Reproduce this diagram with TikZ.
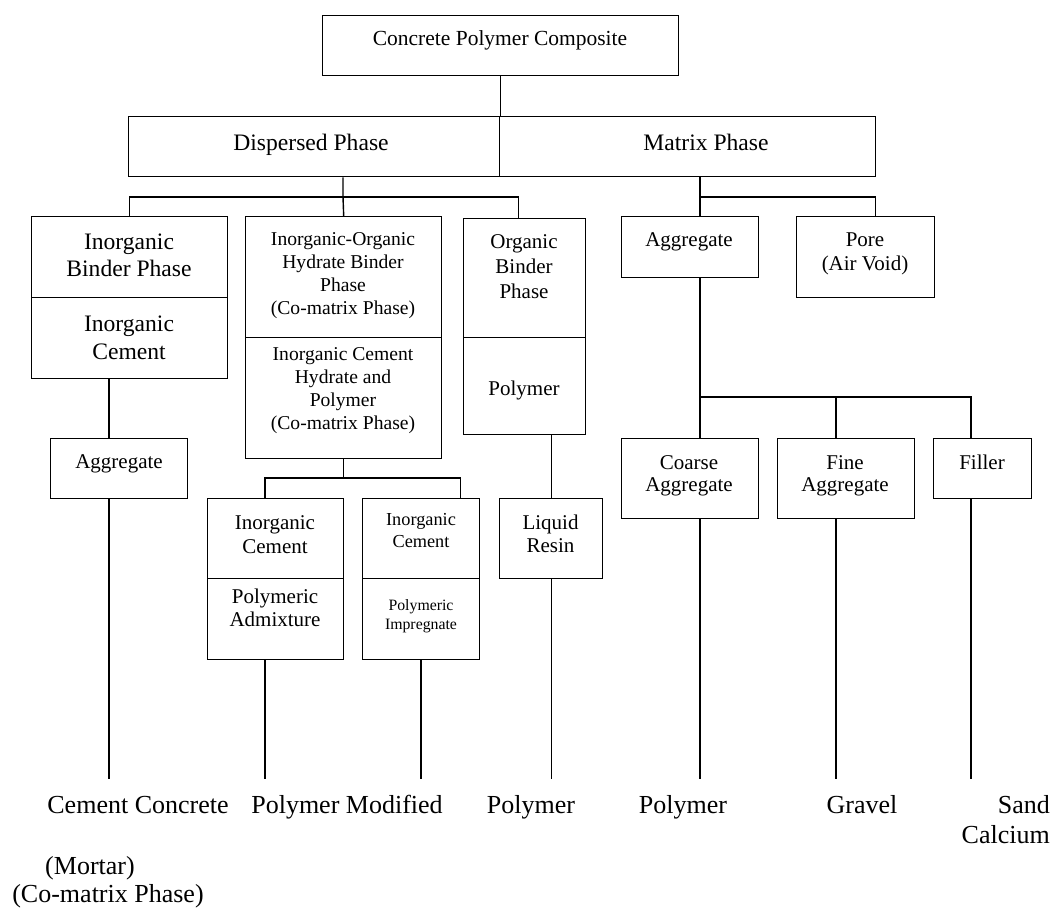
\documentclass[tikz,border=0pt]{standalone}
\usepackage{fontspec}
\setmainfont{Liberation Serif}
\usetikzlibrary{positioning}

\tikzset{
  box/.style={draw, line width=1.4pt, inner sep=0pt, anchor=north west},
  conn/.style={line width=1.4pt},
  txt/.style={align=center, inner sep=0pt, font=\fontsize{21}{23.5}\selectfont},
  oneline/.style={anchor=base},
  txtsm/.style={txt, font=\fontsize{19.6}{23}\selectfont},
  txtbig/.style={txt, font=\fontsize{23.6}{27}\selectfont},
  leaf/.style={inner sep=0pt, anchor=base, font=\fontsize{26}{31}\selectfont},
}

\begin{document}
\begin{tikzpicture}[x=1pt,y=-1pt]
\useasboundingbox (0,0) rectangle (1056,908);

% boxes
\node[box, minimum width=356pt, minimum height=60pt] (cpc) at (322,15) {};
\node[box, minimum width=371pt, minimum height=60pt] (disp) at (128,116) {};
\node[box, minimum width=376pt, minimum height=60pt] (mat) at (499,116) {};
\node[box, minimum width=196pt, minimum height=81pt] (ibin) at (31,216) {};
\node[box, minimum width=196pt, minimum height=81pt] (ic) at (31,297) {};
\node[box, minimum width=196pt, minimum height=121pt] (iohb) at (245,216) {};
\node[box, minimum width=196pt, minimum height=121pt] (iohb2) at (245,337) {};
\node[box, minimum width=122pt, minimum height=119pt] (orgb) at (463,218) {};
\node[box, minimum width=122pt, minimum height=97pt] (pol) at (463,337) {};
\node[box, minimum width=137pt, minimum height=60pt] (lagg) at (50,438) {};
\node[box, minimum width=136pt, minimum height=80pt] (icpa) at (207,498) {};
\node[box, minimum width=136pt, minimum height=81pt] (padm) at (207,578) {};
\node[box, minimum width=117pt, minimum height=80pt] (icpi) at (362,498) {};
\node[box, minimum width=117pt, minimum height=81pt] (pimp) at (362,578) {};
\node[box, minimum width=103pt, minimum height=80pt] (lr) at (499,498) {};
\node[box, minimum width=137pt, minimum height=61pt] (magg) at (621,216) {};
\node[box, minimum width=138pt, minimum height=81pt] (pore) at (796,216) {};
\node[box, minimum width=137pt, minimum height=80pt] (coarse) at (621,438) {};
\node[box, minimum width=137pt, minimum height=80pt] (fine) at (777,438) {};
\node[box, minimum width=98pt, minimum height=60pt] (filler) at (933,438) {};

% box texts
\node[txt, oneline, font=\fontsize{21.5}{25}\selectfont] (cpct) at (500,45.5) {Concrete Polymer Composite};
\node[txtbig, oneline] (dispt) at (311,150.5) {Dispersed Phase};
\node[txtbig, oneline] (matt) at (706,150.5) {Matrix Phase};
\node[txtbig] (ibint) at (129,255.5) {Inorganic\\Binder Phase};
\node[txtbig, font=\fontsize{23.6}{28}\selectfont] (ict) at (129,338) {Inorganic\\Cement};
\node[txtsm] (iohbt) at (343,275.5) {Inorganic-Organic\\Hydrate Binder\\Phase\\(Co-matrix Phase)};
\node[txtsm] (iohb2t) at (343,390.5) {Inorganic Cement\\Hydrate and\\Polymer\\(Co-matrix Phase)};
\node[txt, font=\fontsize{21}{25}\selectfont] (orgbt) at (524,267) {Organic\\Binder\\Phase};
\node[txt, oneline] (polt) at (524,395.5) {Polymer};
\node[txt, oneline] (laggt) at (119,468.5) {Aggregate};
\node[txt] (icpat) at (275,534.5) {Inorganic\\Cement};
\node[txt, font=\fontsize{21}{22.5}\selectfont] (padmt) at (275,608) {Polymeric\\Admixture};
\node[txt, font=\fontsize{18.3}{22}\selectfont] (icpit) at (421,531) {Inorganic\\Cement};
\node[txt, font=\fontsize{15.8}{19}\selectfont] (pimpt) at (421,616.5) {Polymeric\\Impregnate};
\node[txt] (lrt) at (550.5,534) {Liquid\\Resin};
\node[txt, oneline] (maggt) at (689,246.5) {Aggregate};
\node[txt, font=\fontsize{21}{24}\selectfont] (poret) at (865,254) {Pore\\(Air Void)};
\node[txt, font=\fontsize{21}{22.5}\selectfont] (coarset) at (689,476) {Coarse\\Aggregate};
\node[txt, font=\fontsize{21}{22.5}\selectfont] (finet) at (845,476) {Fine\\Aggregate};
\node[txt, oneline] (fillert) at (982,469.5) {Filler};

% junctions and line ends
\coordinate (dj) at (343,197);
\coordinate (mj) at (700,197);
\coordinate (pj) at (343,478);
\coordinate (aj) at (700,397);
\coordinate (ecc) at (109,779);
\coordinate (epm) at (265,779);
\coordinate (epi) at (421,779);
\coordinate (epol2) at (700,779);
\coordinate (egrv) at (836,779);
\coordinate (esand) at (971,779);

% connectors
\draw[conn] (cpc.south) -- (cpc.south |- disp.north);
\draw[conn] (disp.south -| dj) -- (dj) -- (iohb.north);
\draw[conn] (ibin.north) |- (dj) -| ([xshift=-6pt]orgb.north);
\draw[conn] (mat.south -| mj) -- (mj) -- (magg.north -| mj);
\draw[conn] (mj) -| ([xshift=10pt]pore.north);
% dispersed side
\draw[conn] (ic.south -| ecc) -- (lagg.north -| ecc);
\draw[conn] (lagg.south -| ecc) -- (ecc);
\draw[conn] (iohb2.south) -- (iohb2.south |- pj);
\draw[conn] (icpa.north -| epm) |- (pj) -| ([xshift=39.5pt]icpi.north);
\draw[conn] (padm.south -| epm) -- (epm);
\draw[conn] (pimp.south -| epi) -- (epi);
\draw[conn] (pol.south -| lr.north) -- (lr.north);
\draw[conn] (lr.south) -- (lr.south |- ecc);
% matrix side
\draw[conn] (magg.south -| aj) -- (aj) -- (coarse.north -| aj);
\draw[conn] (aj) -| (filler.north -| esand);
\draw[conn] (egrv |- aj) -- (fine.north -| egrv);
\draw[conn] (coarse.south -| epol2) -- (epol2);
\draw[conn] (fine.south -| egrv) -- (egrv);
\draw[conn] (filler.south -| esand) -- (esand);

% leaf labels
\node[leaf] (lcc) at (138,813.5) {Cement Concrete};
\node[leaf] (lpm) at (347,813.5) {Polymer Modified};
\node[leaf] (lpol) at (531,813.5) {Polymer};
\node[leaf] (lpol2) at (683,813.5) {Polymer};
\node[leaf] (lgrv) at (862,813.5) {Gravel};
\node[leaf, anchor=base east] (lsand) at (1050,813.5) {Sand};
\node[leaf, anchor=base east] (lcal) at (1050,843.5) {Calcium};
\node[leaf] (lmor) at (90,874) {(Mortar)};
\node[leaf] (lcmp) at (108,902.5) {(Co-matrix Phase)};
\end{tikzpicture}
\end{document}
